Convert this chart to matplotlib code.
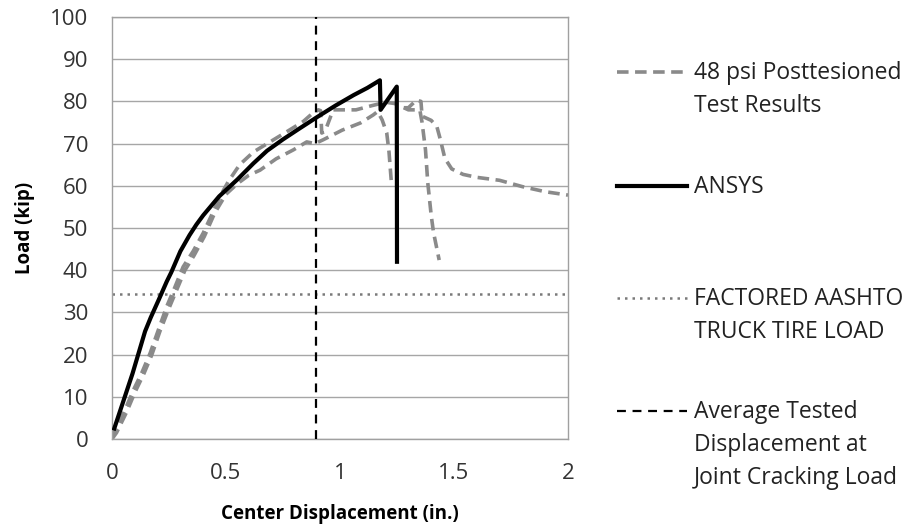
import matplotlib
matplotlib.use('Agg')
import matplotlib.pyplot as plt
from matplotlib.lines import Line2D

plt.rcParams['font.family'] = ['Open Sans', 'DejaVu Sans']

# Test results (three specimens drawn in the same style)
test_a_x = [0.0, 0.013, 0.057, 0.094, 0.13, 0.167, 0.203, 0.24, 0.276, 0.312, 0.356, 0.40,
            0.445, 0.474, 0.51, 0.56, 0.62, 0.693, 0.766, 0.838, 0.88, 0.905, 0.915, 0.92,
            0.935, 0.97, 1.07, 1.14, 1.2, 1.24, 1.3, 1.35, 1.36, 1.375, 1.385, 1.40, 1.41, 1.435]
test_a_y = [0.0, 2.1, 6.9, 11.6, 15.6, 20.3, 25.8, 31.4, 36.0, 40.8, 44.5, 48.8,
            54.0, 57.5, 61.0, 65.0, 68.0, 70.4, 72.8, 75.2, 77.2, 78.0, 77.8, 72.5,
            73.0, 78.0, 78.0, 79.0, 79.8, 79.5, 78.0, 78.0, 75.0, 68.5, 60.7, 53.0, 49.0, 42.4]

test_b_x = [0.0, 0.02, 0.065, 0.10, 0.14, 0.175, 0.21, 0.25, 0.285, 0.32, 0.36, 0.405,
            0.45, 0.50, 0.55, 0.60, 0.649, 0.72, 0.795, 0.854, 0.89, 0.926, 1.01, 1.09,
            1.146, 1.165, 1.185, 1.205, 1.215, 1.225, 1.24]
test_b_y = [0.0, 1.5, 6.5, 11.0, 15.5, 20.0, 25.5, 31.0, 35.5, 40.0, 43.5, 48.0,
            53.5, 58.0, 60.5, 62.5, 63.7, 66.4, 68.5, 70.4, 70.0, 70.9, 73.2, 74.9,
            76.8, 77.6, 75.6, 72.5, 68.0, 61.0, 60.8]

test_c_x = [1.28, 1.30, 1.335, 1.355, 1.36, 1.40, 1.425, 1.44, 1.46, 1.49, 1.54, 1.6,
            1.7, 1.8, 1.9, 2.0]
test_c_y = [78.5, 78.5, 80.3, 80.0, 76.5, 75.5, 74.0, 71.0, 66.5, 64.0, 62.7, 62.0,
            61.3, 59.8, 58.6, 57.8]

# ANSYS model
ansys_x = [0.01, 0.05, 0.09, 0.145, 0.17, 0.205, 0.24, 0.26, 0.30, 0.34, 0.37, 0.40,
           0.47, 0.55, 0.62, 0.68, 0.75, 0.82, 0.90, 0.98, 1.06, 1.12, 1.175, 1.178,
           1.249, 1.25]
ansys_y = [2.5, 9.0, 15.5, 25.5, 28.8, 33.0, 37.3, 39.5, 44.5, 48.3, 50.8, 53.0,
           57.5, 61.5, 65.3, 68.3, 71.0, 73.5, 76.3, 79.0, 81.5, 83.2, 85.0, 78.0,
           83.5, 42.0]

factored_load = 34.3
avg_crack_disp = 0.895

legend_labels = ['48 psi Posttesioned\nTest Results', 'ANSYS',
                 'FACTORED AASHTO\nTRUCK TIRE LOAD',
                 'Average Tested\nDisplacement at\nJoint Cracking Load']

GRAY = '#8a8a8a'
test_style = dict(color=GRAY, lw=2.6, ls=(0, (3.2, 1.8)))
ansys_style = dict(color='black', lw=3.0, ls='-')
dot_style = dict(color='#7a7a7a', lw=1.8, ls=(0, (1, 2)))
vdash_style = dict(color='black', lw=1.6, ls=(0, (4, 3)))

fig = plt.figure(figsize=(9.12, 5.31), dpi=100)
ax = fig.add_axes([112 / 912, 92 / 531, 456 / 912, 422 / 531])

ax.plot(test_a_x, test_a_y, **test_style, zorder=2)
ax.plot(test_b_x, test_b_y, **test_style, zorder=2)
ax.plot(test_c_x, test_c_y, **test_style, zorder=2)
ax.plot(ansys_x, ansys_y, **ansys_style, zorder=3)
ax.axhline(factored_load, **dot_style, zorder=2)
ax.axvline(avg_crack_disp, **vdash_style, zorder=4)

ax.set_xlim(0, 2)
ax.set_ylim(0, 100)
ax.set_xticks([0, 0.5, 1, 1.5, 2])
ax.set_xticklabels(['0', '0.5', '1', '1.5', '2'])
ax.set_yticks(range(0, 101, 10))
ax.yaxis.grid(True, color='#a6a6a6', lw=1.0)
ax.set_axisbelow(True)
for s in ax.spines.values():
    s.set_color('#a0a0a0')
    s.set_linewidth(1.0)
ax.tick_params(length=0, labelsize=16, colors='#333333')
ax.tick_params(axis='y', pad=17)
ax.tick_params(axis='x', pad=17)
ax.set_xlabel('Center Displacement (in.)', fontsize=13.5, fontweight='bold', labelpad=15)
ax.set_ylabel('Load (kip)', fontsize=13.5, fontweight='bold', labelpad=11)

# Legend drawn by hand so the handles line up with the first text line
styles = [test_style, ansys_style, dot_style, vdash_style]
first_line_y = [72, 186, 298, 411]
for st, lab, py in zip(styles, legend_labels, first_line_y):
    yf = 1 - py / 531
    fig.add_artist(Line2D([617 / 912, 687 / 912], [yf, yf], transform=fig.transFigure, **st))
    fig.text(694 / 912, 1 - (py - 11) / 531, lab, fontsize=16.5, color='#222222',
             va='top', ha='left', linespacing=1.5)

fig.savefig('out.png', dpi=100)
